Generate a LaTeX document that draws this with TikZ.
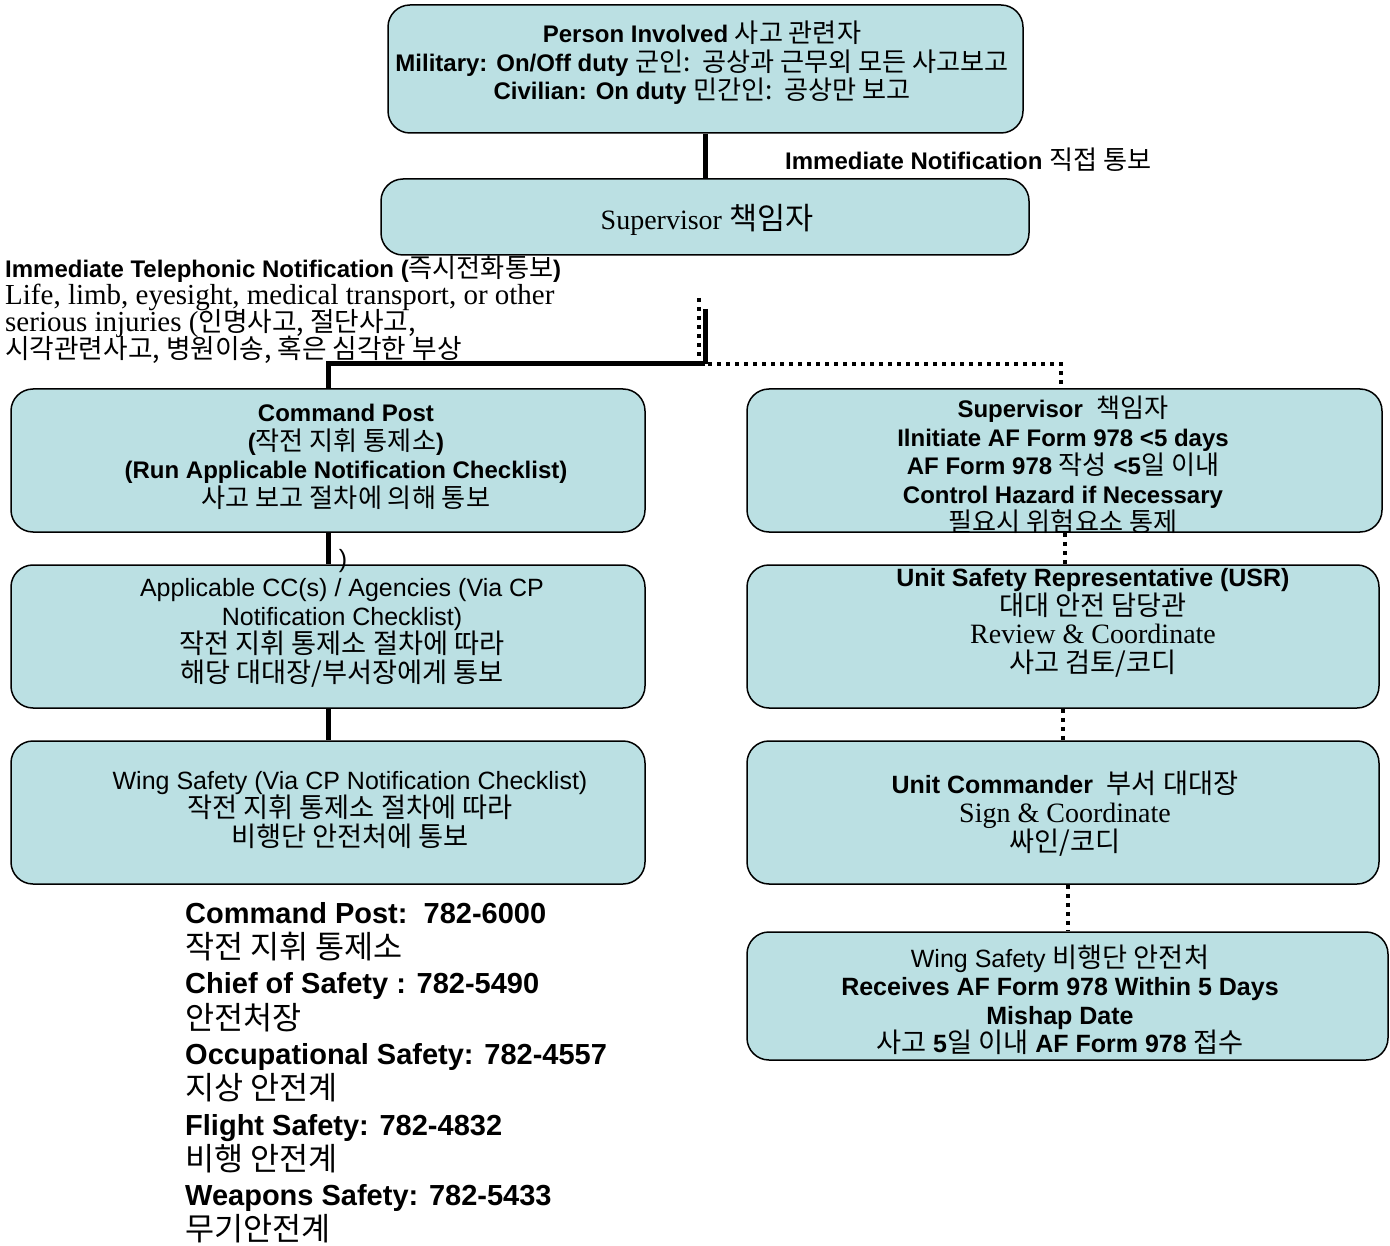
\documentclass[tikz,border=0pt]{standalone}
\usepackage{fontspec}
\setmainfont{Liberation Sans}
\newfontfamily\serifrm{Liberation Serif}
\newfontfamily\krfont[Scale = 1.09]{Noto Sans CJK KR}
\usepackage{xcolor}
\usepackage{tikz}
\usetikzlibrary{calc}
\usetikzlibrary{positioning}
\definecolor{boxfill}{RGB}{187,224,227}
\newcommand{\krtext}[1]{{\krfont\mdseries #1}}
\newcommand{\krserif}[1]{{\fontsize{24.5}{27}\selectfont\krfont\mdseries #1}}
\newcommand{\tightlines}{\setlength{\lineskiplimit}{-30pt}\setlength{\lineskip}{0pt}}
\tikzset{>=latex}
\tikzstyle{box} = [rectangle, draw = black, line width = 1.5pt, fill = boxfill, rounded corners = 22pt, inner sep = 0]
\tikzstyle{solidline} = [-, line width = 5pt]
\tikzstyle{dotline} = [-, line width = 4pt, dash pattern = on 4pt off 5pt]
\tikzstyle{boldtext} = [inner sep = 0, align = center, font = \fontsize{24}{28.5}\selectfont\bfseries]
\tikzstyle{plaintext} = [inner sep = 0, align = center, font = \fontsize{25}{28.5}\selectfont]
\tikzstyle{serifflow} = [inner sep = 0, align = left, font = \serifrm\fontsize{29}{27}\selectfont]

\begin{document}
\begin{tikzpicture}[x = 1pt, y = -1pt]
\path [use as bounding box, fill = white] (0, 0) rectangle (1390, 1246);
\node [box, minimum width = 635pt, minimum height = 128pt] (inv) at (705.5, 69) {};
\node [box, minimum width = 648pt, minimum height = 76pt] (sup) at (705, 217) {};
\node [box, minimum width = 634pt, minimum height = 143pt] (cp) at (328, 460.5) {};
\node [box, minimum width = 634pt, minimum height = 143pt] (cc) at (328, 636.5) {};
\node [box, minimum width = 634pt, minimum height = 143pt] (ws) at (328, 812.5) {};
\node [box, minimum width = 635pt, minimum height = 143pt] (sup2) at (1064.5, 460.5) {};
\node [box, minimum width = 632pt, minimum height = 143pt] (usr) at (1063, 636.5) {};
\node [box, minimum width = 632pt, minimum height = 143pt] (uc) at (1063, 812.5) {};
\node [box, minimum width = 641pt, minimum height = 128pt] (wsr) at (1067.5, 996) {};
\node [boldtext] (invtext) at (702, 63) {Person Involved \krtext{사고 관련자}\\Military: On/Off duty \krtext{군인:\ \ 공상과 근무외 모든 사고보고}\\Civilian: On duty \krtext{민간인:\ \ 공상만 보고}};
\node [boldtext, anchor = west] (immnote) at (785, 160) {Immediate Notification \krtext{직접 통보}};
\node [serifflow, align = center, font = \serifrm\fontsize{28}{27}\selectfont] (suptext) at (707, 220) {Supervisor \krtext{책임자}};
\node [boldtext, anchor = west] (telhead) at (5, 269) {Immediate Telephonic Notification (\krtext{즉시전화통보})};
\node [serifflow, anchor = west, font = \serifrm\fontsize{29}{27}\selectfont\tightlines] (telbody) at (5, 324) {Life, limb, eyesight, medical transport, or other\\serious injuries (\krserif{인명사고, 절단사고,}\\\krserif{시각관련사고, 병원이송, 혹은 심각한 부상}};
\node [boldtext] (cptext) at (346, 457) {Command Post\\(\krtext{작전 지휘 통제소})\\(Run Applicable Notification Checklist)\\\krtext{사고 보고 절차에 의해 통보}};
\node [plaintext] (paren) at (343, 561) {)};
\node [plaintext] (cctext) at (342, 633) {Applicable CC(s) / Agencies (Via CP\\Notification Checklist)\\\krtext{작전 지휘 통제소 절차에 따라}\\\krtext{해당 대대장/부서장에게 통보}};
\node [plaintext] (wstext) at (350, 810) {Wing Safety (Via CP Notification Checklist)\\\krtext{작전 지휘 통제소 절차에 따라}\\\krtext{비행단 안전처에 통보}};
\node [boldtext] (sup2text) at (1063, 465) {Supervisor\ \ \krtext{책임자}\\Ilnitiate AF Form 978 <5 days\\AF Form 978 \krtext{작성} <5\krtext{일 이내}\\Control Hazard if Necessary\\\krtext{필요시 위험요소 통제}};
\node [plaintext] (usrtext) at (1093, 623) {{\bfseries Unit Safety Representative (USR)}\\\krtext{대대 안전 담당관}\\{\serifrm\fontsize{28}{28.5}\selectfont Review \& Coordinate}\\\krtext{사고 검토/코디}};
\node [plaintext] (uctext) at (1065, 814) {{\bfseries Unit Commander}\ \ \krtext{부서 대대장}\\{\serifrm\fontsize{28}{28.5}\selectfont Sign \& Coordinate}\\\krtext{싸인/코디}};
\node [plaintext] (wsrtext) at (1060, 1000) {Wing Safety \krtext{비행단 안전처}\\{\bfseries Receives AF Form 978 Within 5 Days}\\{\bfseries Mishap Date}\\\krtext{사고} {\bfseries 5}\krtext{일 이내} {\bfseries AF Form 978} \krtext{접수}};
\node [inner sep = 0, anchor = north west, align = left, font = \fontsize{29}{35.3}\selectfont\bfseries] (phones) at (185, 902) {Command Post:\ \ 782-6000\\\krtext{작전 지휘 통제소}\\Chief of Safety : 782-5490\\\krtext{안전처장}\\Occupational Safety: 782-4557\\\krtext{지상 안전계}\\Flight Safety: 782-4832\\\krtext{비행 안전계}\\Weapons Safety: 782-5433\\\krtext{무기안전계}};
\coordinate (dotstart) at (699, 298);
\coordinate (solidstart) at (705, 309);
\coordinate (junc) at (705, 364);
\draw [solidline] (inv.south) -- (inv.south |- sup.north);
\draw [dotline] (dotstart) -- (dotstart |- junc);
\draw [solidline] (solidstart) -- (junc);
\draw [solidline] (junc) -| (cp.north);
\draw [dotline] ([xshift = 3pt] junc) -| ([xshift = -4pt] sup2.north);
\draw [solidline] (cp.south) -- (cc.north);
\draw [solidline] (cc.south) -- (ws.north);
\draw [dotline] (sup2.south) -- (sup2.south |- usr.north);
\draw [dotline] (usr.south) -- (uc.north);
\draw [dotline] (wsr.north |- uc.south) -- (wsr.north);
\end{tikzpicture}
\end{document}
